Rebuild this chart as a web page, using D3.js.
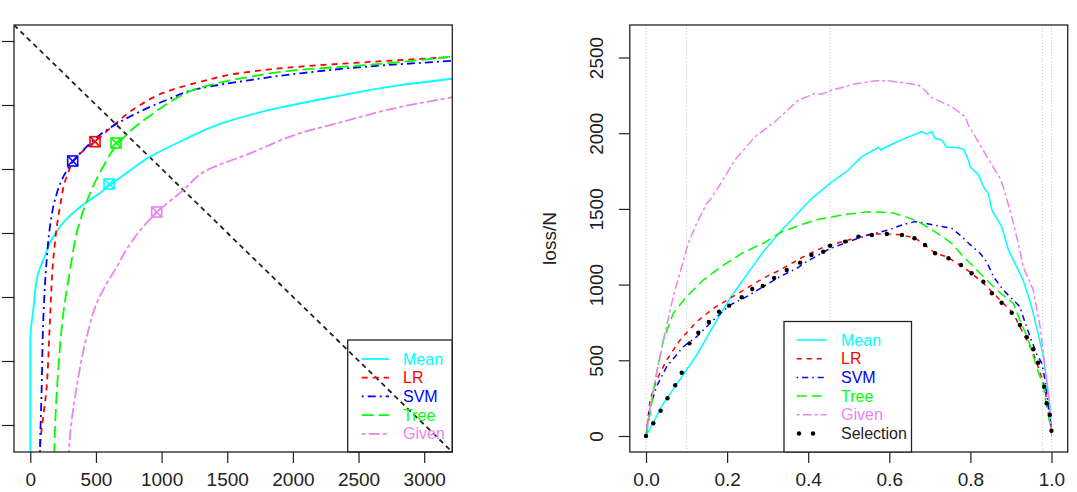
<!DOCTYPE html>
<html>
<head>
<meta charset="utf-8">
<script src="https://cdn.jsdelivr.net/npm/d3@7"></script>
<style>
  body { margin: 0; background: #fff; }
  svg { display: block; font-family: "Liberation Sans", Arial, Helvetica, sans-serif; }
</style>
</head>
<body>
<div id="chart"></div>
<script>
// series names and colours (R colours)
var seriesNames = ["Mean", "LR", "SVM", "Tree", "Given"];
var seriesColors = ["#00ffff", "#ff0000", "#0000ff", "#00ff00", "#ee82ee"];

// left panel: x ticks and unlabeled y ticks
var leftXTicks = [0, 500, 1000, 1500, 2000, 2500, 3000];
var leftYTicks = [0.2, 0.3, 0.4, 0.5, 0.6, 0.7, 0.8];

// left panel curves, [x, y]
var leftMean = [[0, 0.10], [0, 0.333], [23, 0.380], [61, 0.4375], [99, 0.458], [175, 0.494], [277, 0.522],
  [379, 0.5406], [531, 0.5625], [607, 0.575], [735, 0.594], [912, 0.619], [1164, 0.645], [1469, 0.672],
  [1881, 0.695], [2307, 0.7125], [2818, 0.731], [3214, 0.741]];
var leftLR = [[72, 0.10], [74, 0.158], [125, 0.260], [150, 0.364], [175, 0.458], [226, 0.541], [277, 0.588],
  [354, 0.619], [493, 0.643], [633, 0.668], [836, 0.700], [1040, 0.721], [1293, 0.736], [1674, 0.752],
  [2056, 0.760], [2564, 0.767], [3214, 0.775]];
var leftSVM = [[72, 0.10], [74, 0.158], [87, 0.260], [99, 0.364], [125, 0.458], [150, 0.510], [188, 0.552],
  [252, 0.588], [323, 0.611], [430, 0.635], [582, 0.661], [760, 0.682], [1040, 0.708], [1293, 0.726],
  [1674, 0.739], [2056, 0.7495], [2564, 0.760], [3214, 0.769]];
var leftTree = [[180, 0.10], [183, 0.158], [213, 0.286], [252, 0.375], [303, 0.442], [366, 0.510], [455, 0.562],
  [556, 0.604], [653, 0.636], [760, 0.659], [938, 0.687], [1090, 0.708], [1293, 0.727], [1674, 0.744],
  [2056, 0.755], [2564, 0.7625], [3214, 0.776]];
var leftGiven = [[290, 0.10], [295, 0.158], [354, 0.260], [430, 0.338], [506, 0.390], [582, 0.421], [659, 0.447],
  [747, 0.479], [963, 0.532], [1166, 0.567], [1344, 0.598], [1674, 0.6245], [2056, 0.656], [2437, 0.677],
  [2818, 0.697], [3214, 0.712]];

// selected points on the left curves (boxed x markers), same order as seriesNames
var leftMarkX = [600, 493, 323, 653, 963];
var leftMarkY = [0.5766, 0.6427, 0.6125, 0.6406, 0.5328];

// right panel ticks
var rightXTicks = [0, 0.2, 0.4, 0.6, 0.8, 1.0];
var rightYTicks = [0, 500, 1000, 1500, 2000, 2500];
var rightVLines = [0, 0.1, 0.454, 0.978, 1.0];

// right panel curves, [fraction, loss/N]
var rightMean = [[0, 0], [0.043, 216], [0.125, 535], [0.182, 799], [0.207, 909], [0.289, 1217], [0.335, 1361],
  [0.409, 1570], [0.454, 1669], [0.499, 1757], [0.532, 1845], [0.565, 1894], [0.573, 1907], [0.579, 1889],
  [0.602, 1922], [0.639, 1966], [0.680, 2010], [0.692, 1995], [0.705, 2010], [0.713, 1966], [0.729, 1955],
  [0.742, 1907], [0.762, 1907], [0.783, 1894], [0.795, 1823], [0.799, 1779], [0.820, 1724], [0.832, 1647],
  [0.844, 1603], [0.853, 1493], [0.877, 1383], [0.894, 1229], [0.930, 1030], [0.951, 854], [0.967, 678],
  [0.980, 524], [0.988, 370], [0.996, 194], [1.0, 20]];
var rightLR = [[0, 0], [0.010, 238], [0.026, 370], [0.051, 502], [0.084, 634], [0.125, 755], [0.166, 843],
  [0.207, 909], [0.248, 975], [0.289, 1042], [0.330, 1096], [0.396, 1196], [0.441, 1251], [0.499, 1295],
  [0.557, 1334], [0.598, 1334], [0.631, 1328], [0.664, 1306], [0.688, 1262], [0.713, 1207], [0.742, 1184],
  [0.774, 1129], [0.803, 1075], [0.832, 1009], [0.857, 943], [0.881, 876], [0.906, 810], [0.922, 722],
  [0.939, 634], [0.955, 546], [0.967, 458], [0.980, 348], [0.992, 194], [1.0, 40]];
var rightSVM = [[0, 0], [0.010, 194], [0.026, 326], [0.051, 458], [0.092, 590], [0.125, 656], [0.166, 766],
  [0.207, 865], [0.248, 920], [0.289, 986], [0.330, 1052], [0.372, 1108], [0.396, 1151], [0.450, 1233],
  [0.499, 1284], [0.548, 1328], [0.598, 1361], [0.631, 1394], [0.664, 1416], [0.688, 1405], [0.729, 1383],
  [0.754, 1372], [0.779, 1317], [0.800, 1262], [0.824, 1207], [0.840, 1151], [0.857, 1052], [0.881, 964],
  [0.906, 898], [0.922, 854], [0.930, 788], [0.947, 656], [0.963, 546], [0.976, 480], [0.984, 370],
  [0.992, 194], [1.0, 40]];
var rightTree = [[0, 0], [0.010, 150], [0.026, 414], [0.043, 634], [0.067, 810], [0.100, 920], [0.141, 1030],
  [0.191, 1129], [0.240, 1212], [0.289, 1273], [0.335, 1349], [0.417, 1427], [0.499, 1466], [0.548, 1481],
  [0.602, 1475], [0.614, 1470], [0.639, 1449], [0.672, 1416], [0.713, 1349], [0.754, 1273], [0.783, 1184],
  [0.824, 1075], [0.865, 964], [0.906, 876], [0.922, 766], [0.943, 634], [0.963, 458], [0.980, 326],
  [0.988, 194], [0.999, 40]];
var rightGiven = [[0, 0], [0.010, 194], [0.026, 414], [0.043, 634], [0.067, 920], [0.088, 1118], [0.104, 1273],
  [0.125, 1405], [0.150, 1537], [0.158, 1559], [0.182, 1658], [0.219, 1823], [0.269, 1977], [0.318, 2076],
  [0.376, 2219], [0.417, 2263], [0.433, 2257], [0.454, 2281], [0.515, 2325], [0.565, 2347], [0.597, 2347],
  [0.672, 2318], [0.692, 2274], [0.700, 2241], [0.754, 2175], [0.787, 2109], [0.795, 2054], [0.836, 1867],
  [0.873, 1702], [0.881, 1647], [0.902, 1449], [0.922, 1228], [0.930, 1118], [0.955, 964], [0.972, 722],
  [0.984, 458], [0.996, 194], [1.0, 0]];
var rightSelection = [[0, 0], [0.018, 84], [0.036, 167], [0.053, 249], [0.072, 335], [0.088, 418], [0.107, 612],
  [0.129, 682], [0.155, 753], [0.180, 821], [0.205, 861], [0.236, 916], [0.262, 971], [0.288, 991],
  [0.316, 1044], [0.347, 1096], [0.380, 1145], [0.408, 1196], [0.437, 1217], [0.454, 1257], [0.491, 1284],
  [0.524, 1317], [0.557, 1328], [0.594, 1334], [0.631, 1328], [0.662, 1306], [0.688, 1262], [0.713, 1207],
  [0.746, 1174], [0.777, 1129], [0.803, 1075], [0.832, 1019], [0.853, 943], [0.877, 880], [0.902, 814],
  [0.922, 733], [0.939, 652], [0.955, 573], [0.967, 484], [0.982, 326], [0.988, 216], [0.996, 139], [1.0, 35]];

var W = 1077, H = 492;
var svg = d3.select("#chart").append("svg").attr("width", W).attr("height", H);

// box positions of the two plot regions
var boxL = { x0: 14, x1: 452.3, y0: 25, y1: 452 };
var boxR = { x0: 629.8, x1: 1067.7, y0: 25, y1: 452 };

var xL = d3.scaleLinear().domain([-124, 3214]).range([boxL.x0, boxL.x1]);
var yL = d3.scaleLinear().domain([0.1578, 0.825]).range([boxL.y1, boxL.y0]);
var xR = d3.scaleLinear().domain([-0.04, 1.04]).range([boxR.x0, boxR.x1]);
var yR = d3.scaleLinear().domain([-105.7, 2714.7]).range([boxR.y1, boxR.y0]);

var fontSize = 19;

function styleAxis(g) {
  g.select(".domain").remove();
  g.selectAll(".tick line").attr("stroke", "#222").attr("stroke-width", 1.2);
  g.selectAll(".tick text").attr("fill", "#222").style("font-size", fontSize + "px")
    .style("font-family", "'Liberation Sans', Arial, sans-serif");
}

// ---------- left panel ----------
var leftDash = [null, "6,5", "2,4,8,4", "12,5", "4,3,11,3"];
var leftWidth = 1.8;

svg.append("clipPath").attr("id", "clipL").append("rect")
  .attr("x", boxL.x0).attr("y", boxL.y0)
  .attr("width", boxL.x1 - boxL.x0).attr("height", boxL.y1 - boxL.y0);

svg.append("g")
  .attr("transform", "translate(0," + boxL.y1 + ")")
  .call(d3.axisBottom(xL).tickValues(leftXTicks).tickSize(11).tickPadding(10).tickFormat(d3.format("d")))
  .call(styleAxis);

svg.append("g")
  .attr("transform", "translate(" + boxL.x0 + ",0)")
  .call(d3.axisLeft(yL).tickValues(leftYTicks).tickSize(12).tickFormat(""))
  .call(styleAxis);

var plotL = svg.append("g").attr("clip-path", "url(#clipL)");

// diagonal from top-left corner to bottom-right corner
var xdom = xL.domain(), ydom = yL.domain();
plotL.append("line")
  .attr("x1", xL(xdom[0])).attr("y1", yL(ydom[1]))
  .attr("x2", xL(xdom[1])).attr("y2", yL(ydom[0]))
  .attr("stroke", "#222").attr("stroke-width", 1.8).attr("stroke-dasharray", "5,4");

var lineLy = d3.line().x(d => xL(d[0])).y(d => yL(d[1])).curve(d3.curveMonotoneY);
var leftSeries = [leftMean, leftLR, leftSVM, leftTree, leftGiven];

leftSeries.forEach(function (data, i) {
  plotL.append("path")
    .datum(data)
    .attr("fill", "none")
    .attr("stroke", seriesColors[i])
    .attr("stroke-width", leftWidth)
    .attr("stroke-dasharray", leftDash[i])
    .attr("d", lineLy);
});

// boxed-x markers
leftSeries.forEach(function (data, i) {
  var cx = xL(leftMarkX[i]), cy = yL(leftMarkY[i]), s = 5;
  var g = plotL.append("g").attr("stroke", seriesColors[i]).attr("stroke-width", 1.6).attr("fill", "none");
  g.append("rect").attr("x", cx - s).attr("y", cy - s).attr("width", 2 * s).attr("height", 2 * s);
  g.append("line").attr("x1", cx - s).attr("y1", cy - s).attr("x2", cx + s).attr("y2", cy + s);
  g.append("line").attr("x1", cx - s).attr("y1", cy + s).attr("x2", cx + s).attr("y2", cy - s);
});

svg.append("rect")
  .attr("x", boxL.x0).attr("y", boxL.y0)
  .attr("width", boxL.x1 - boxL.x0).attr("height", boxL.y1 - boxL.y0)
  .attr("fill", "none").attr("stroke", "#222").attr("stroke-width", 1.3);

// left legend
var legL = svg.append("g");
legL.append("rect")
  .attr("x", 347.7).attr("y", 340).attr("width", boxL.x1 - 347.7).attr("height", boxL.y1 - 340)
  .attr("fill", "none").attr("stroke", "#222").attr("stroke-width", 1.3);
seriesNames.forEach(function (name, i) {
  var yy = 359 + i * 18.7;
  legL.append("line")
    .attr("x1", 361.7).attr("x2", 389).attr("y1", yy).attr("y2", yy)
    .attr("stroke", seriesColors[i]).attr("stroke-width", leftWidth)
    .attr("stroke-dasharray", leftDash[i]);
  legL.append("text")
    .attr("x", 403).attr("y", yy).attr("dy", "0.35em")
    .attr("fill", seriesColors[i]).style("font-size", "16px")
    .text(name);
});

// ---------- right panel ----------
var rightDash = [null, "5,5", "1.5,4,6,4", "10,5", "3,3,9,3"];
var rightWidth = 1.5;

svg.append("clipPath").attr("id", "clipR").append("rect")
  .attr("x", boxR.x0).attr("y", boxR.y0)
  .attr("width", boxR.x1 - boxR.x0).attr("height", boxR.y1 - boxR.y0);

var plotR = svg.append("g").attr("clip-path", "url(#clipR)");

plotR.selectAll(".vline")
  .data(rightVLines)
  .enter().append("line")
  .attr("class", "vline")
  .attr("x1", d => xR(d)).attr("x2", d => xR(d))
  .attr("y1", boxR.y0).attr("y2", boxR.y1)
  .attr("stroke", "#c8c8c8").attr("stroke-width", 1).attr("stroke-dasharray", "1,2");

svg.append("g")
  .attr("transform", "translate(0," + boxR.y1 + ")")
  .call(d3.axisBottom(xR).tickValues(rightXTicks).tickSize(11).tickPadding(10).tickFormat(d3.format(".1f")))
  .call(styleAxis);

var yAxisR = svg.append("g")
  .attr("transform", "translate(" + boxR.x0 + ",0)")
  .call(d3.axisLeft(yR).tickValues(rightYTicks).tickSize(11).tickFormat(d3.format("d")))
  .call(styleAxis);
yAxisR.selectAll(".tick text")
  .attr("transform", "rotate(-90)")
  .attr("x", 0).attr("y", -27.3).attr("dy", 0)
  .attr("text-anchor", "middle");

svg.append("text")
  .attr("transform", "translate(556," + ((boxR.y0 + boxR.y1) / 2) + ") rotate(-90)")
  .attr("text-anchor", "middle")
  .attr("fill", "#222").style("font-size", fontSize + "px")
  .text("loss/N");

var lineR = d3.line().x(d => xR(d[0])).y(d => yR(d[1]));
var rightSeries = [rightMean, rightLR, rightSVM, rightTree, rightGiven];

rightSeries.forEach(function (data, i) {
  plotR.append("path")
    .datum(data)
    .attr("fill", "none")
    .attr("stroke", seriesColors[i])
    .attr("stroke-width", rightWidth)
    .attr("stroke-dasharray", rightDash[i])
    .attr("d", lineR);
});

plotR.selectAll(".dot")
  .data(rightSelection)
  .enter().append("circle")
  .attr("class", "dot")
  .attr("r", 2.2)
  .attr("cx", d => xR(d[0]))
  .attr("cy", d => yR(d[1]))
  .attr("fill", "#000");

svg.append("rect")
  .attr("x", boxR.x0).attr("y", boxR.y0)
  .attr("width", boxR.x1 - boxR.x0).attr("height", boxR.y1 - boxR.y0)
  .attr("fill", "none").attr("stroke", "#222").attr("stroke-width", 1.3);

// right legend
var legR = svg.append("g");
legR.append("rect")
  .attr("x", 784).attr("y", 321.5).attr("width", 911.5 - 784).attr("height", boxR.y1 - 321.5)
  .attr("fill", "#fff").attr("stroke", "#222").attr("stroke-width", 1.3);
var legNamesR = seriesNames.concat(["Selection"]);
var legColorsR = seriesColors.concat(["#000"]);
legNamesR.forEach(function (name, i) {
  var yy = 340 + i * 18.7;
  if (i < seriesNames.length) {
    legR.append("line")
      .attr("x1", 796.7).attr("x2", 826.7).attr("y1", yy).attr("y2", yy)
      .attr("stroke", legColorsR[i]).attr("stroke-width", rightWidth)
      .attr("stroke-dasharray", rightDash[i]);
  } else {
    [799, 813].forEach(function (cx) {
      legR.append("circle").attr("cx", cx).attr("cy", yy).attr("r", 2.2).attr("fill", "#000");
    });
  }
  legR.append("text")
    .attr("x", 841).attr("y", yy).attr("dy", "0.35em")
    .attr("fill", i < seriesNames.length ? legColorsR[i] : "#222").style("font-size", "16px")
    .text(name);
});
</script>
</body>
</html>
